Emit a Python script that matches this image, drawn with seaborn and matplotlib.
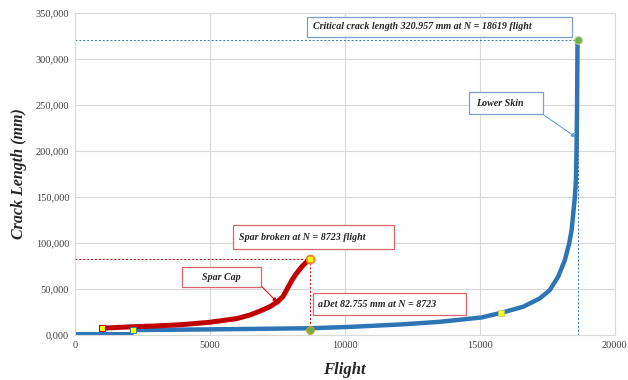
import matplotlib
matplotlib.use("Agg")
import matplotlib.pyplot as plt
from matplotlib.patches import Rectangle
from matplotlib.ticker import FuncFormatter
import pandas as pd
import seaborn as sns

# Lower skin crack growth (flight, crack length mm)
skin_flight = [0, 2100, 2150, 4000, 6000, 8723, 10190, 12000, 13520, 15060, 15800,
               16600, 17220, 17590, 17900, 18150, 18310, 18400, 18460, 18520, 18560,
               18585, 18605, 18619]
skin_crack = [1, 1, 5.5, 6, 6.6, 7.5, 9, 11.5, 14.5, 19.2, 24.3,
              30.8, 39.9, 48.9, 63.4, 81.5, 99.7, 114, 132, 150, 168,
              205, 260, 320.957]

# Spar cap crack growth
spar_flight = [1000, 2000, 3000, 4000, 5000, 6000, 6500, 6850, 7220, 7500, 7715,
               7900, 8050, 8210, 8400, 8600, 8723]
spar_crack = [7.5, 9, 10, 11.5, 14, 18, 22, 26, 30.8, 36, 42,
              52, 60, 67, 74, 80, 82.755]

x_ticks = [0, 5000, 10000, 15000, 20000]
y_ticks = [0, 50, 100, 150, 200, 250, 300, 350]

N_crit, a_crit = 18619, 320.957
N_spar, a_spar = 8723, 82.755
a_det = 6.0

skin = pd.DataFrame({"flight": skin_flight, "crack": skin_crack})
spar = pd.DataFrame({"flight": spar_flight, "crack": spar_crack})

sns.set_style("whitegrid")
plt.rcParams["font.family"] = ["Liberation Serif", "DejaVu Serif"]

fig = plt.figure(figsize=(6.28, 3.8), dpi=100)
ax = fig.add_axes([0.119, 0.118, 0.86, 0.848])

sns.lineplot(data=skin, x="flight", y="crack", sort=False, color="#2e75b6",
             linewidth=3.2, ax=ax)
sns.lineplot(data=spar, x="flight", y="crack", sort=False, color="#c00000",
             linewidth=3.6, ax=ax)

# guide lines
dash = (0, (2, 2))
ax.plot([0, N_crit], [a_crit, a_crit], ls=dash, color="#2e75b6", lw=0.7)
ax.plot([N_crit, N_crit], [0, a_crit], ls=dash, color="#2e75b6", lw=0.7)
ax.plot([0, N_spar], [a_spar, a_spar], ls=dash, color="#c00000", lw=0.7)
ax.plot([N_spar, N_spar], [0, a_spar], ls=dash, color="#c00000", lw=0.7)

# markers
ax.plot(N_crit, a_crit, "o", ms=5.5, mfc="#70ad47", mec="#a9d18e", mew=0.8)
ax.plot(N_spar, a_det, "o", ms=5.5, mfc="#70ad47", mec="#c9a227", mew=0.8)
ax.plot(N_spar, a_spar, "o", ms=6, mfc="#ed7d31", mec="#ed7d31")
ax.plot(N_spar, a_spar, "s", ms=3, mfc="#ffff00", mec="#ffff00")
ax.plot(spar_flight[0], spar_crack[0], "s", ms=4.5, mfc="#ffff00", mec="#c00000", mew=0.8)
ax.plot(2150, 5.5, "s", ms=4, mfc="#ffff00", mec="#2e75b6", mew=0.6)
ax.plot(15800, 24.3, "s", ms=4, mfc="#ffff00", mec="#a9d18e", mew=0.5)

ax.set_xlim(0, 20000)
ax.set_ylim(0, 350)
ax.set_xticks(x_ticks)
ax.set_yticks(y_ticks)
ax.yaxis.set_major_formatter(FuncFormatter(lambda v, p: f"{v:.3f}".replace(".", ",")))
ax.tick_params(axis="both", labelsize=7.5, labelcolor="#404040", length=0, pad=4)
ax.grid(True, color="#d9d9d9", lw=0.8)
for s in ax.spines.values():
    s.set_color("#d9d9d9")
    s.set_linewidth(0.8)

ax.set_xlabel("Flight", fontsize=12, fontweight="bold", fontstyle="italic", labelpad=9)
ax.set_ylabel("Crack Length (mm)", fontsize=11.5, fontweight="bold", fontstyle="italic",
              labelpad=6)

txt = dict(fontsize=7.2, fontweight="bold", fontstyle="italic", va="center",
           clip_on=False, zorder=6)


def callout(x0, x1, y0, y1, text, tx, ec, ha="left"):
    ax.add_patch(Rectangle((x0, y0), x1 - x0, y1 - y0, fc="white", ec=ec, lw=0.9,
                           zorder=5, clip_on=False))
    ax.text(tx, (y0 + y1) / 2, text, ha=ha, **txt)


callout(8590, 18400, 324, 345.7,
        "Critical crack length 320.957 mm at N = 18619 flight", 8815, "#7f9fc9")
callout(14590, 17330, 240, 264, "Lower Skin", 14850, "#7f9fc9")
callout(3960, 6890, 52, 74, "Spar Cap", 5425, "#d9666a", ha="center")
callout(5850, 11810, 93.5, 119.6, "Spar broken at N = 8723 flight", 6070, "#d9666a")
callout(8815, 14480, 21.7, 45.7, "aDet 82.755 mm at N = 8723", 9000, "#d9666a")

ax.annotate("", xy=(18555, 215), xytext=(17330, 240),
            arrowprops=dict(arrowstyle="-|>", color="#5b9bd5", lw=0.7,
                            mutation_scale=6, shrinkA=0, shrinkB=0))
ax.annotate("", xy=(7490, 36), xytext=(6890, 54),
            arrowprops=dict(arrowstyle="-|>", color="#c00000", lw=0.7,
                            mutation_scale=6, shrinkA=0, shrinkB=0))

fig.savefig("out.png", dpi=100)
